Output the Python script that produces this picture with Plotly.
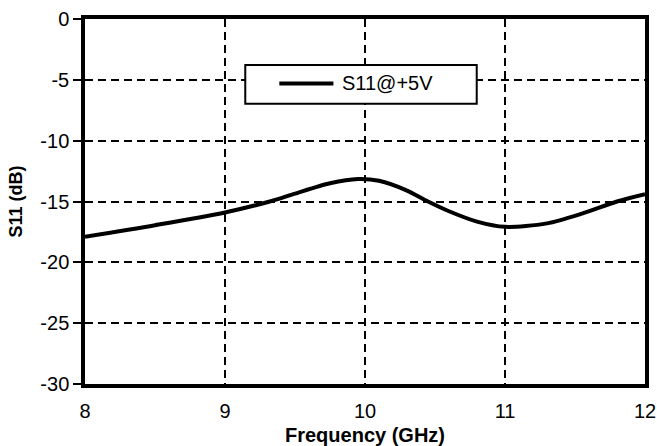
import plotly.graph_objects as go

freq = [8.0, 8.5, 9.0, 9.32, 9.5, 9.75, 9.95, 10.1, 10.3, 10.45, 10.6, 10.8, 11.0, 11.3, 11.55, 11.8, 12.0]
s11 = [-17.9, -16.95, -15.9, -15.0, -14.35, -13.5, -13.15, -13.3, -14.1, -15.0, -15.8, -16.65, -17.08, -16.8, -16.0, -15.0, -14.4]
xticks = [8, 9, 10, 11, 12]
yticks = [0, -5, -10, -15, -20, -25, -30]
series_name = "S11@+5V"
x_title = "Frequency (GHz)"
y_title = "S11 (dB)"

fig = go.Figure()
fig.add_trace(go.Scatter(x=freq, y=s11, mode="lines", name=series_name, showlegend=False,
                         line=dict(color="black", width=4, shape="spline", smoothing=0.8)))

font = dict(family="Liberation Sans, Arial, sans-serif", color="black")

# legend box (decoration, in plot-area domain coordinates)
fig.add_shape(type="rect", xref="x domain", yref="y domain",
              x0=0.2862, x1=0.6995, y0=0.7678, y1=0.8743,
              line=dict(color="black", width=2), fillcolor="white", layer="above")
fig.add_shape(type="line", xref="x domain", yref="y domain",
              x0=0.347, x1=0.4436, y0=0.8235, y1=0.8235,
              line=dict(color="black", width=4), layer="above")
fig.add_annotation(xref="x domain", yref="y domain", x=0.4545, y=0.8235,
                   xanchor="left", yanchor="middle", text=series_name, showarrow=False,
                   font=dict(**font, size=20))
# x axis title
fig.add_annotation(xref="paper", yref="paper", x=0.5, y=-0.1397,
                   xanchor="center", yanchor="middle", text="<b>" + x_title + "</b>",
                   showarrow=False, font=dict(**font, size=20))

fig.update_layout(
    width=657, height=446,
    margin=dict(l=85, r=12, t=19, b=62),
    paper_bgcolor="white", plot_bgcolor="white",
    font=dict(**font, size=20),
    showlegend=False,
    xaxis=dict(range=[8, 12], tickvals=xticks, ticktext=[str(v) for v in xticks],
               showline=True, linecolor="black", linewidth=3.5, mirror=True,
               showgrid=True, gridcolor="black", gridwidth=1.5, griddash="8px,5px",
               ticks="", zeroline=False, ticklabelstandoff=6, automargin=False,
               tickfont=dict(**font, size=20)),
    yaxis=dict(range=[-30, 0], tickvals=yticks, ticktext=[str(v) for v in yticks],
               showline=True, linecolor="black", linewidth=3.5, mirror=True,
               showgrid=True, gridcolor="black", gridwidth=1.5, griddash="8px,5px",
               ticks="outside", ticklen=8, tickwidth=1.5, tickcolor="black", zeroline=False,
               automargin=False, tickfont=dict(**font, size=20),
               title=dict(text="<b>" + y_title + "</b>", font=dict(**font, size=18), standoff=14)),
)
fig.write_html("out.html")
